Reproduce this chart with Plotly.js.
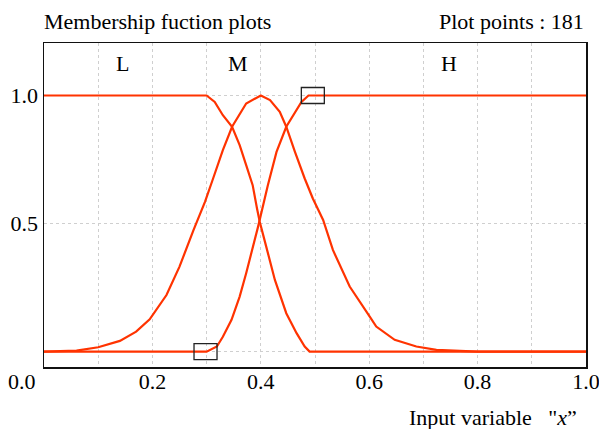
<!DOCTYPE html>
<html>
<head>
<meta charset="utf-8">
<script src="https://cdn.plot.ly/plotly-3.0.1.min.js"></script>
<style>html,body{margin:0;padding:0;background:#fff;}#chart{width:599px;height:429px;}</style>
</head>
<body>
<div id="chart"></div>
<script>
// ---- data ----
const lX = [0, 0.1, 0.2, 0.3, 0.315, 0.330, 0.347, 0.361, 0.373, 0.385, 0.393, 0.398, 0.410, 0.426, 0.447, 0.466, 0.481, 0.490, 0.6, 0.8, 1.0];
const lY = [1, 1, 1, 1, 0.975, 0.923, 0.878, 0.806, 0.728, 0.650, 0.559, 0.507, 0.410, 0.280, 0.150, 0.072, 0.020, 0, 0, 0, 0];

const mX = [0, 0.06, 0.1, 0.14, 0.17, 0.195, 0.226, 0.25, 0.276, 0.297, 0.312, 0.330, 0.347, 0.358, 0.373, 0.4, 0.417, 0.435, 0.447, 0.463, 0.481, 0.496, 0.515, 0.533, 0.564, 0.601, 0.613, 0.647, 0.687, 0.724, 0.8, 1.0];
const mY = [0, 0.004, 0.017, 0.042, 0.078, 0.126, 0.221, 0.332, 0.475, 0.585, 0.676, 0.787, 0.878, 0.917, 0.969, 1.0, 0.982, 0.936, 0.878, 0.780, 0.676, 0.598, 0.514, 0.397, 0.254, 0.137, 0.098, 0.046, 0.020, 0.007, 0, 0];

const hX = [0, 0.1, 0.2, 0.3, 0.319, 0.330, 0.346, 0.361, 0.373, 0.386, 0.395, 0.413, 0.429, 0.447, 0.463, 0.475, 0.488, 0.6, 0.8, 1.0];
const hY = [0, 0, 0, 0, 0.02, 0.058, 0.124, 0.215, 0.306, 0.410, 0.488, 0.650, 0.780, 0.878, 0.936, 0.975, 1, 1, 1, 1];

const setNames = ['L', 'M', 'H'];
const setLabelX = [0.145, 0.358, 0.748];
const setLabelY = [1.126, 1.126, 1.126];

const boxX = [0.298, 0.496];
const boxY = [0, 1];

const xTickVals = [0, 0.1, 0.2, 0.3, 0.4, 0.5, 0.6, 0.7, 0.8, 0.9, 1.0];
const xTickText = ['', '', '0.2', '', '0.4', '', '0.6', '', '0.8', '', '1.0'];
const yTickVals = [0, 0.5, 1.0];
const yTickText = ['', '0.5', '1.0'];

const titleText = 'Membership fuction plots';
const pointsText = 'Plot points : 181';
const xTitleText = 'Input variable&nbsp;&nbsp;&nbsp;"<i>x</i>”';
const cornerText = '0.0';

// ---- drawing ----
const red = '#ff3300';
const FONT = 'Liberation Serif, Times New Roman, serif';
const FS = 22;
const lineStyle = {color: red, width: 2.2};

const traces = [
  {x: lX, y: lY, mode: 'lines', line: lineStyle, name: 'L', hoverinfo: 'skip'},
  {x: mX, y: mY, mode: 'lines', line: lineStyle, name: 'M', hoverinfo: 'skip'},
  {x: hX, y: hY, mode: 'lines', line: lineStyle, name: 'H', hoverinfo: 'skip'}
];

const annotations = setNames.map((t, i) => ({
  text: t, x: setLabelX[i], y: setLabelY[i], xref: 'x', yref: 'y',
  showarrow: false, xanchor: 'center', yanchor: 'middle'
}));
annotations.push({text: pointsText, xref: 'paper', yref: 'paper', x: 1.0, y: 1.0,
  xanchor: 'right', yanchor: 'middle', yshift: 22, showarrow: false});
annotations.push({text: xTitleText, xref: 'paper', yref: 'paper', x: 0.987, y: 0,
  xanchor: 'right', yanchor: 'middle', yshift: -50, showarrow: false});
annotations.push({text: cornerText, xref: 'paper', yref: 'paper', x: 0, y: 0,
  xanchor: 'center', yanchor: 'middle', xshift: -22, yshift: -14, showarrow: false});

const shapes = boxX.map((bx, i) => ({
  type: 'rect', xref: 'x', yref: 'y', xsizemode: 'pixel', ysizemode: 'pixel',
  xanchor: bx, yanchor: boxY[i], x0: -11.5, x1: 11.5, y0: -8, y1: 8,
  line: {color: '#222', width: 1.3}, fillcolor: 'rgba(0,0,0,0)', layer: 'above'
}));

const layout = {
  width: 599, height: 429,
  margin: {l: 44, r: 13, t: 43, b: 62, pad: 0},
  paper_bgcolor: '#fff', plot_bgcolor: '#fff',
  font: {family: FONT, size: FS, color: '#000'},
  showlegend: false,
  title: {text: titleText, xref: 'paper', x: 0, xanchor: 'left',
          yref: 'container', y: 0.951, yanchor: 'middle',
          font: {family: FONT, size: FS, color: '#000'}},
  xaxis: {range: [0, 1], tickvals: xTickVals, ticktext: xTickText,
          showgrid: true, gridcolor: '#cfcfcf', griddash: 'dot', gridwidth: 1,
          zeroline: false, showline: true, mirror: true, linecolor: '#111', linewidth: 1.5,
          ticks: '', ticklen: 0, ticklabeloverflow: 'allow', ticklabelstandoff: -6, fixedrange: true},
  yaxis: {range: [-0.06, 1.205], tickvals: yTickVals, ticktext: yTickText,
          showgrid: true, gridcolor: '#cfcfcf', griddash: 'dot', gridwidth: 1,
          zeroline: false, showline: true, mirror: true, linecolor: '#111', linewidth: 1.5,
          ticks: '', ticklen: 0, fixedrange: true},
  annotations: annotations,
  shapes: shapes
};

Plotly.newPlot('chart', traces, layout, {displayModeBar: false, staticPlot: true});
</script>
</body>
</html>
